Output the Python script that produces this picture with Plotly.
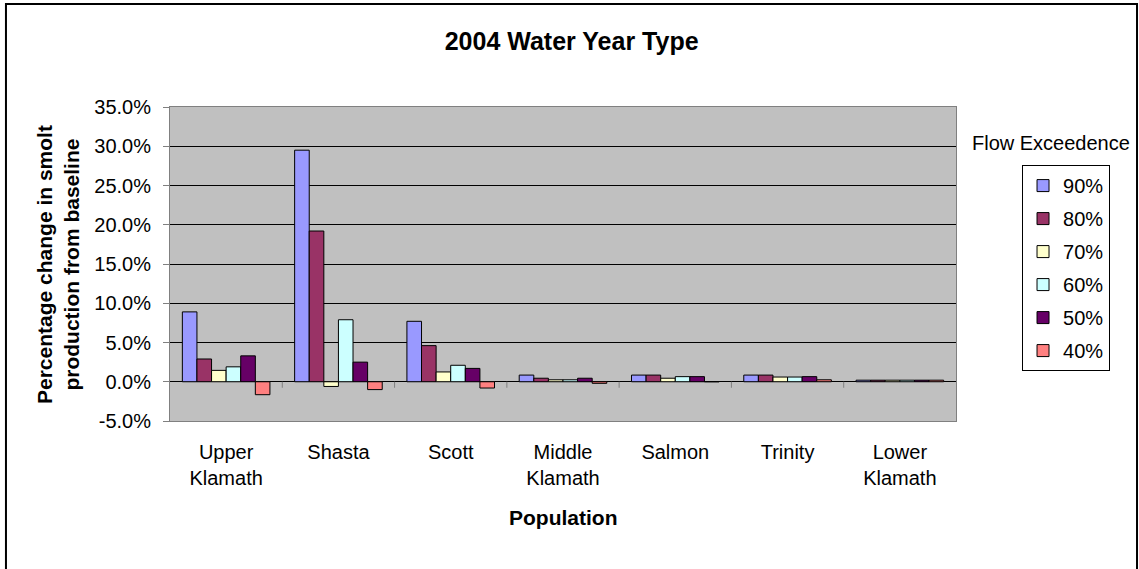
import plotly.graph_objects as go

# ── Data (percentage change in smolt production from baseline) ────────────────
populations = ["Upper<br>Klamath", "Shasta", "Scott", "Middle<br>Klamath",
               "Salmon", "Trinity", "Lower<br>Klamath"]
levels = ["90%", "80%", "70%", "60%", "50%", "40%"]

p90 = [8.9, 29.5, 7.7, 0.85, 0.85, 0.85, 0.2]
p80 = [2.9, 19.2, 4.6, 0.45, 0.85, 0.85, 0.2]
p70 = [1.45, -0.6, 1.25, 0.25, 0.45, 0.6, 0.2]
p60 = [1.9, 7.9, 2.1, 0.25, 0.65, 0.6, 0.2]
p50 = [3.3, 2.5, 1.7, 0.45, 0.65, 0.65, 0.2]
p40 = [-1.65, -1.0, -0.8, -0.2, 0.0, 0.25, 0.2]

y_ticks = [-5, 0, 5, 10, 15, 20, 25, 30, 35]
y_ticktext = ["-5.0%", "0.0%", "5.0%", "10.0%", "15.0%", "20.0%", "25.0%",
              "30.0%", "35.0%"]

series = [p90, p80, p70, p60, p50, p40]
colors = ["#9999FF", "#993366", "#FFFFCC", "#CCFFFF", "#660066", "#FF8080"]

FONT = "Liberation Sans, Arial, sans-serif"

# plot area in pixels: x 170..956, y 107..421
fig = go.Figure()
for name, vals, col in zip(levels, series, colors):
    fig.add_trace(go.Bar(
        x=populations, y=vals, name=name, legendgroup=name,
        marker=dict(color=col, line=dict(color="black", width=1)),
    ))

# category separators hanging under the zero line
for k in range(len(populations) - 1):
    fig.add_shape(type="line", xref="x", yref="y", x0=k + 0.5, x1=k + 0.5,
                  ysizemode="pixel", yanchor=0, y0=0, y1=-6,
                  line=dict(color="#808080", width=1))

# outer chart border
fig.add_shape(type="rect", xref="paper", yref="paper",
              x0=-0.2087, x1=1.2303, y0=-0.52, y1=1.328,
              line=dict(color="black", width=2), layer="above")

fig.add_annotation(text="<b>Percentage change in smolt<br>production from baseline</b>",
                   xref="paper", yref="paper", x=-0.1425, y=0.5, textangle=-90,
                   xanchor="center", yanchor="middle",
                   showarrow=False, font=dict(size=21, color="black"))
fig.add_annotation(text="<b>Population</b>", xref="paper", yref="paper",
                   x=0.5, y=-0.306, xanchor="center", yanchor="middle",
                   showarrow=False, font=dict(size=21, color="black"))
fig.add_annotation(text="Flow Exceedence", xref="paper", yref="paper",
                   x=1.121, y=0.885, xanchor="center", yanchor="middle",
                   showarrow=False, font=dict(size=20, color="black"))

fig.update_layout(
    width=1139, height=569,
    paper_bgcolor="white", plot_bgcolor="#C0C0C0",
    font=dict(family=FONT, size=20, color="black"),
    margin=dict(l=170, r=183, t=107, b=148),
    title=dict(text="<b>2004 Water Year Type</b>", x=0.511, xref="paper",
               xanchor="center", y=1 - 41 / 569, yanchor="middle",
               font=dict(size=25)),
    barmode="group", bargap=0.22, bargroupgap=0,
    showlegend=True,
    legend=dict(x=1.084, y=0.815, xanchor="left", yanchor="top",
                bordercolor="black", borderwidth=1, bgcolor="white",
                tracegroupgap=4, traceorder="grouped",
                font=dict(size=20)),
    xaxis=dict(showgrid=False, ticks="", showline=True, mirror=True,
               linecolor="#808080", linewidth=1, ticklabelstandoff=13,
               tickfont=dict(size=20)),
    yaxis=dict(range=[-5, 35], tickvals=y_ticks, ticktext=y_ticktext,
               showgrid=True, gridcolor="black", gridwidth=1,
               zeroline=True, zerolinecolor="black", zerolinewidth=1,
               showline=True, mirror=True, linecolor="#808080", linewidth=1,
               ticks="outside", ticklen=6, tickcolor="#808080",
               ticklabelstandoff=8, tickfont=dict(size=20)),
)

fig.write_html("out.html", config=dict(displayModeBar=False),
               post_script="document.body.style.margin='0';")
